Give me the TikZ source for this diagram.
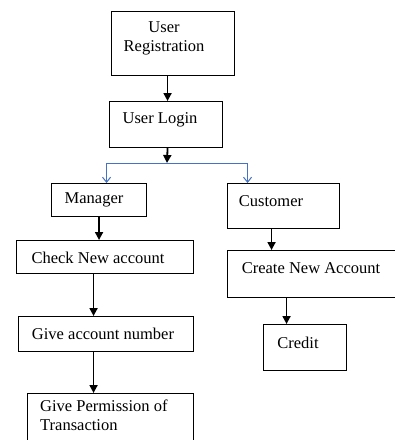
\documentclass[tikz,border=0pt]{standalone}
\usepackage{fontspec}
\setmainfont{Liberation Serif}
\usetikzlibrary{arrows.meta, shapes, calc, positioning}
\tikzset{
  x=1pt, y=-1pt,
  every node/.style={align=center}
}

\begin{document}
\begin{tikzpicture}
\tikzstyle{stage}=[rectangle, draw, line width=1.1pt, anchor=north west, inner sep=0pt]
\tikzstyle{txt}=[font=\fontsize{16.5}{19}\selectfont, inner sep=0pt]
\tikzstyle{flow}=[-{Triangle[width=8pt,length=8pt]}, draw, line width=1.8pt]
\tikzstyle{branch}=[-{Straight Barb[width=8pt,length=5pt]}, draw,
  line width=1pt, color={rgb,255:red,68;green,114;blue,196}]

\useasboundingbox (0,0) rectangle (395,440);
\clip (0,0) rectangle (395,440);

% login part
\node[stage, minimum width=123pt, minimum height=64pt](reg) at (111,11){};
\node[txt](reg_t) at (164,38){User\\Registration};
\node[stage, minimum width=113pt, minimum height=46pt](login) at (109,101){};
\node[txt](login_t) at (160,120){User Login};
\coordinate (split) at (167,163);

% manager side
\node[stage, minimum width=95pt, minimum height=33pt](man) at (51,183){};
\node[txt](man_t) at (94,200){Manager};
\node[stage, minimum width=177pt, minimum height=33pt](check) at (16,240){};
\node[txt](check_t) at (98,258){Check New account};
\node[stage, minimum width=175pt, minimum height=35pt](num) at (18,316){};
\node[txt](num_t) at (103,334){Give account number};
\node[stage, minimum width=166pt, minimum height=52pt](perm) at (27,393){};
\node[txt, anchor=north west, align=left](perm_t) at (40,400){Give Permission of\\Transaction};

% customer side
\node[stage, minimum width=112pt, minimum height=45pt](cust) at (227,183){};
\node[txt](cust_t) at (271,201){Customer};
\node[stage, minimum width=178pt, minimum height=47pt](create) at (227,250){};
\node[txt](create_t) at (311,268){Create New Account};
\node[stage, minimum width=83pt, minimum height=46pt](credit) at (263,324){};
\node[txt](credit_t) at (298,343){Credit};

\draw[flow]([xshift=-5.5pt]reg.south) -- ([xshift=-5.5pt]reg.south |- login.north);
\draw[flow]([xshift=1.5pt]login.south) -- (split);
\draw[branch](split) -| ([xshift=7.5pt]man.north);
\draw[branch](split) -| ([xshift=-36pt]cust.north);

\draw[flow](man.south) -- (man.south |- check.north);
\draw[flow]([xshift=-11.5pt]check.south) -- ([xshift=-11.5pt]check.south |- num.north);
\draw[flow]([xshift=-12.5pt]num.south) -- ([xshift=-12.5pt]num.south |- perm.north);

\draw[flow]([xshift=-12pt]cust.south) -- ([xshift=-12pt]cust.south |- create.north);
\draw[flow]([xshift=-30pt]create.south) -- ([xshift=-30pt]create.south |- credit.north);

\end{tikzpicture}
\end{document}
